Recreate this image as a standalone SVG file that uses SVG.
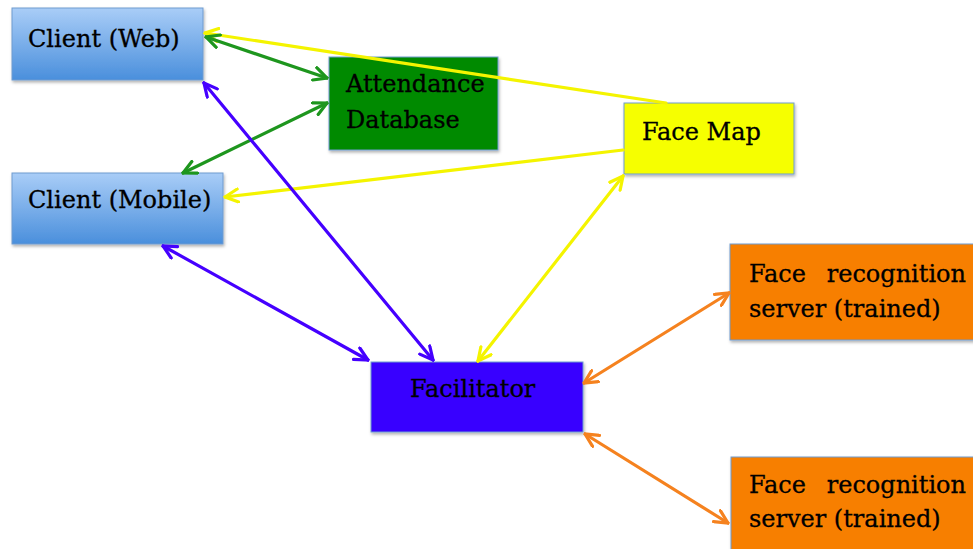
<svg xmlns="http://www.w3.org/2000/svg" width="973" height="549" viewBox="0 0 973 549">
<style>
.box{stroke:#6f9bd0;stroke-width:1;filter:url(#sh)}
.t{font-family:"DejaVu Serif","Liberation Serif",serif;font-size:24px;fill:#000;stroke:#000;stroke-width:0.3}
.c{fill:none;stroke-width:3.2;stroke-linecap:round}
</style>
<defs>
<linearGradient id="gb" x1="0" y1="0" x2="0" y2="1">
<stop offset="0" stop-color="#a9cdf7"/>
<stop offset="1" stop-color="#4a8fdc"/>
</linearGradient>
<filter id="sh" x="-10%" y="-10%" width="130%" height="140%">
<feDropShadow dx="1" dy="2" stdDeviation="1.5" flood-color="#000" flood-opacity="0.3"/>
</filter>
<marker id="ay" viewBox="0 0 16 16" refX="14.5" refY="8" markerWidth="16" markerHeight="16" markerUnits="userSpaceOnUse" orient="auto-start-reverse"><path d="M1.5,1.5 L14.5,8 L1.5,14.5" fill="none" stroke="#f4f400" stroke-width="3.2" stroke-linecap="round"/></marker>
<marker id="ag" viewBox="0 0 16 16" refX="14.5" refY="8" markerWidth="16" markerHeight="16" markerUnits="userSpaceOnUse" orient="auto-start-reverse"><path d="M1.5,1.5 L14.5,8 L1.5,14.5" fill="none" stroke="#1e961e" stroke-width="3.2" stroke-linecap="round"/></marker>
<marker id="ab" viewBox="0 0 16 16" refX="14.5" refY="8" markerWidth="16" markerHeight="16" markerUnits="userSpaceOnUse" orient="auto-start-reverse"><path d="M1.5,1.5 L14.5,8 L1.5,14.5" fill="none" stroke="#4500ff" stroke-width="3.2" stroke-linecap="round"/></marker>
<marker id="ao" viewBox="0 0 16 16" refX="14.5" refY="8" markerWidth="16" markerHeight="16" markerUnits="userSpaceOnUse" orient="auto-start-reverse"><path d="M1.5,1.5 L14.5,8 L1.5,14.5" fill="none" stroke="#f5821f" stroke-width="3.2" stroke-linecap="round"/></marker>
</defs>
<rect width="973" height="549" fill="#fff"/>
<g id="client-web">
<rect class="box" x="12" y="8" width="191" height="72" fill="url(#gb)"/>
<text class="t" x="28" y="47">Client (Web)</text>
</g>
<g id="attendance-db">
<rect class="box" x="329" y="57" width="169" height="93" fill="#008a00"/>
<text class="t" x="346" y="92">Attendance</text>
<text class="t" x="346" y="128">Database</text>
</g>
<g id="client-mobile">
<rect class="box" x="12" y="173" width="211" height="71" fill="url(#gb)"/>
<text class="t" x="28" y="208">Client (Mobile)</text>
</g>
<g id="face-map">
<rect class="box" x="624" y="103" width="170" height="71" fill="#f6ff00"/>
<text class="t" x="642" y="140">Face Map</text>
</g>
<g id="facilitator">
<rect class="box" x="371" y="362" width="212" height="70" fill="#3800ff"/>
<text class="t" x="410" y="397">Facilitator</text>
</g>
<g id="fr-server-1">
<rect class="box" x="730" y="244" width="250" height="96" fill="#f77f00"/>
<text class="t" x="749" y="282">Face<tspan x="966" text-anchor="end">recognition</tspan></text>
<text class="t" x="749" y="317">server (trained)</text>
</g>
<g id="fr-server-2">
<rect class="box" x="731" y="457" width="250" height="100" fill="#f77f00"/>
<text class="t" x="749" y="493">Face<tspan x="966" text-anchor="end">recognition</tspan></text>
<text class="t" x="749" y="527">server (trained)</text>
</g>
<g id="connectors">
<line class="c" stroke="#f4f400" x1="666" y1="103" x2="205" y2="33" marker-end="url(#ay)"/>
<line class="c" stroke="#f4f400" x1="623" y1="150" x2="225" y2="197" marker-end="url(#ay)"/>
<line class="c" stroke="#f4f400" x1="478" y1="361" x2="623" y2="176" marker-start="url(#ay)" marker-end="url(#ay)"/>
<line class="c" stroke="#1e961e" x1="206" y1="37" x2="327" y2="78" marker-start="url(#ag)" marker-end="url(#ag)"/>
<line class="c" stroke="#1e961e" x1="327" y1="103" x2="183" y2="173" marker-start="url(#ag)" marker-end="url(#ag)"/>
<line class="c" stroke="#4500ff" x1="204" y1="83" x2="433" y2="360" marker-start="url(#ab)" marker-end="url(#ab)"/>
<line class="c" stroke="#4500ff" x1="163" y1="246" x2="368" y2="360" marker-start="url(#ab)" marker-end="url(#ab)"/>
<line class="c" stroke="#f5821f" x1="584" y1="383" x2="729" y2="293" marker-start="url(#ao)" marker-end="url(#ao)"/>
<line class="c" stroke="#f5821f" x1="585" y1="434" x2="728" y2="523" marker-start="url(#ao)" marker-end="url(#ao)"/>
</g>
</svg>
